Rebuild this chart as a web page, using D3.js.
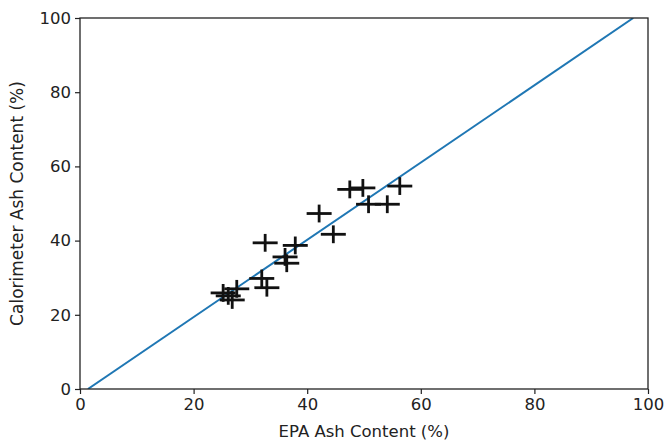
<!DOCTYPE html>
<meta charset="utf-8">
<script src="https://d3js.org/d3.v7.min.js"></script>
<style>
  body { margin: 0; background: #fff; }
</style>
<div id="chart"></div>
<script>

    // measured EPA ash vs calorimeter ash (%)
    const epaAsh = [47.5, 49.8, 56.3, 50.8, 54.1, 42.1, 44.6, 32.6, 37.9, 36.1, 36.4, 32.0, 32.9, 27.6, 25.2, 26.1, 26.8];
    const calAsh = [53.8, 54.2, 54.7, 49.8, 49.8, 47.3, 41.7, 39.4, 38.7, 35.6, 33.9, 29.8, 27.3, 27.0, 25.9, 25.1, 24.0];
    const epaErr = 2.2;
    const calErr = 2.4;

    // fitted line end points
    const fitX = [1.4, 97.4];
    const fitY = [0, 100];

    const xTicks = [0, 20, 40, 60, 80, 100];
    const yTicks = [0, 20, 40, 60, 80, 100];

    const width = 666;
    const height = 442;
    const marginTop = 18;
    const marginRight = 18;
    const marginBottom = 53;
    const marginLeft = 80;

    const svg = d3.select("#chart")
        .append("svg")
        .attr("width", width)
        .attr("height", height)
        .attr("style", "font-family: 'DejaVu Sans', sans-serif;");

    const x = d3.scaleLinear()
        .domain([0, 100])
        .range([marginLeft, width - marginRight]);

    const y = d3.scaleLinear()
        .domain([0, 100])
        .range([height - marginBottom, marginTop]);

    svg.append("clipPath").attr("id", "clip")
        .append("rect")
        .attr("x", marginLeft).attr("y", marginTop)
        .attr("width", width - marginLeft - marginRight)
        .attr("height", height - marginTop - marginBottom);

    // fit line
    svg.append("path")
        .datum(fitX.map((d, i) => [d, fitY[i]]))
        .attr("clip-path", "url(#clip)")
        .attr("fill", "none")
        .attr("stroke", "#1f77b4")
        .attr("stroke-width", 2)
        .attr("d", d3.line().x(d => x(d[0])).y(d => y(d[1])));

    // error bars
    const pts = epaAsh.map((d, i) => ({ x: d, y: calAsh[i] }));
    const bars = svg.append("g")
        .attr("stroke", "#111")
        .attr("stroke-width", 2.8);

    bars.selectAll(".h")
        .data(pts)
        .join("line")
        .attr("x1", d => x(d.x - epaErr))
        .attr("x2", d => x(d.x + epaErr))
        .attr("y1", d => y(d.y))
        .attr("y2", d => y(d.y));

    bars.selectAll(".v")
        .data(pts)
        .join("line")
        .attr("x1", d => x(d.x))
        .attr("x2", d => x(d.x))
        .attr("y1", d => y(d.y - calErr))
        .attr("y2", d => y(d.y + calErr));

    // axes
    const xAxis = svg.append("g")
        .attr("transform", `translate(0,${height - marginBottom})`)
        .call(d3.axisBottom(x).tickValues(xTicks).tickSize(5).tickPadding(4).tickSizeOuter(0));

    const yAxis = svg.append("g")
        .attr("transform", `translate(${marginLeft},0)`)
        .call(d3.axisLeft(y).tickValues(yTicks).tickSize(5).tickPadding(4).tickSizeOuter(0));

    [xAxis, yAxis].forEach(g => {
        g.select(".domain").remove();
        g.selectAll(".tick line").attr("stroke", "#222").attr("stroke-width", 1.2);
        g.selectAll(".tick text")
            .attr("fill", "#222")
            .style("font-size", "16.5px")
            .style("font-family", "'DejaVu Sans', sans-serif");
    });

    // frame
    svg.append("rect")
        .attr("x", marginLeft)
        .attr("y", marginTop)
        .attr("width", width - marginLeft - marginRight)
        .attr("height", height - marginTop - marginBottom)
        .attr("fill", "none")
        .attr("stroke", "#222")
        .attr("stroke-width", 1.3);

    svg.append("text")
        .attr("x", (marginLeft + width - marginRight) / 2)
        .attr("y", height - 5)
        .attr("text-anchor", "middle")
        .attr("fill", "#222")
        .style("font-size", "16.5px")
        .text("EPA Ash Content (%)");

    svg.append("text")
        .attr("transform", `translate(23,${(marginTop + height - marginBottom) / 2}) rotate(-90)`)
        .attr("text-anchor", "middle")
        .attr("fill", "#222")
        .style("font-size", "17px")
        .text("Calorimeter Ash Content (%)");

</script>
